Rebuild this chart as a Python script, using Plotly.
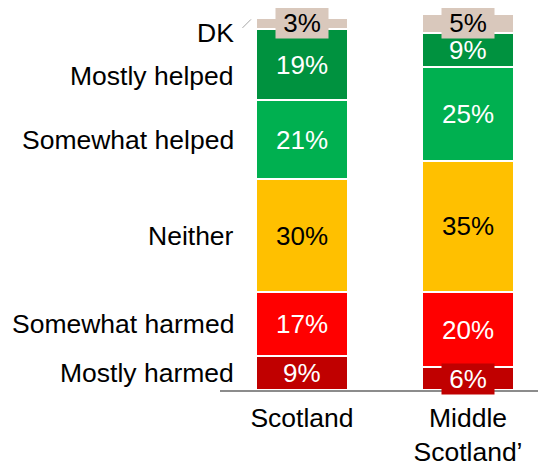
import plotly.graph_objects as go

categories = ["Scotland", "Middle<br>Scotland’"]
responses = ["Mostly harmed", "Somewhat harmed", "Neither", "Somewhat helped", "Mostly helped", "DK"]
scotland = [9, 17, 30, 21, 19, 3]
middle_scotland = [6, 20, 35, 25, 9, 5]
colors = ["#C00000", "#FF0000", "#FFC000", "#00B050", "#00923F", "#D9C8BC"]
text_colors = ["white", "white", "black", "white", "white", "black"]

series = [scotland, middle_scotland]
FONT = "Liberation Sans, Arial, sans-serif"
FS_VAL = 26
FS_LAB = 26.5
NBSP = "\u00a0"

fig = go.Figure()
for i, r in enumerate(responses):
    fig.add_trace(go.Bar(
        x=categories,
        y=[s[i] for s in series],
        name=r,
        width=0.554,
        marker=dict(color=colors[i], line=dict(color="white", width=2)),
        hoverinfo="skip",
    ))

annotations = []
# value labels
for j, cat in enumerate(categories):
    base = 0
    for i, v in enumerate(series[j]):
        center = base + v / 2
        ann = dict(x=cat, y=center, xref="x", yref="y", text=f"{v}%", showarrow=False,
                   font=dict(family=FONT, size=FS_VAL, color=text_colors[i]),
                   xanchor="center", yanchor="middle", borderpad=0)
        if v < 7:
            ann["bgcolor"] = colors[i]
            ann["text"] = f"{NBSP}{v}%{NBSP}"
        annotations.append(ann)
        base += v

# left response labels, aligned to the Scotland bar segments
label_shift = {"Mostly helped": -11, "DK": -10}
base = 0
for i, r in enumerate(responses):
    v = scotland[i]
    center = base + v / 2
    annotations.append(dict(x=0.05, y=center, xref="paper", yref="y", text=r, showarrow=False,
                            font=dict(family=FONT, size=FS_LAB, color="black"),
                            xanchor="right", yanchor="middle", yshift=label_shift.get(r, 0)))
    if r == "DK":
        annotations.append(dict(x=0.095, y=center, xref="paper", yref="y", text="",
                                showarrow=True, arrowhead=0, arrowwidth=1, arrowcolor="#A6A6A6",
                                ax=-10, ay=10, yshift=4, font=dict(size=1)))
    base += v

fig.update_layout(
    template="none",
    barmode="stack",
    width=538, height=457,
    margin=dict(l=212, r=0, t=6, b=75, autoexpand=False),
    paper_bgcolor="white", plot_bgcolor="white",
    showlegend=False,
    annotations=annotations,
    xaxis=dict(range=[-0.494, 1.47], showline=True, linecolor="#8C8C8C", linewidth=2,
               ticks="", showgrid=False, zeroline=False, automargin=False,
               tickfont=dict(family=FONT, size=FS_LAB, color="black"), ticklabelstandoff=3),
    yaxis=dict(range=[0, 100], visible=False, showgrid=False, zeroline=False, automargin=False),
)

fig.write_html("out.html")
